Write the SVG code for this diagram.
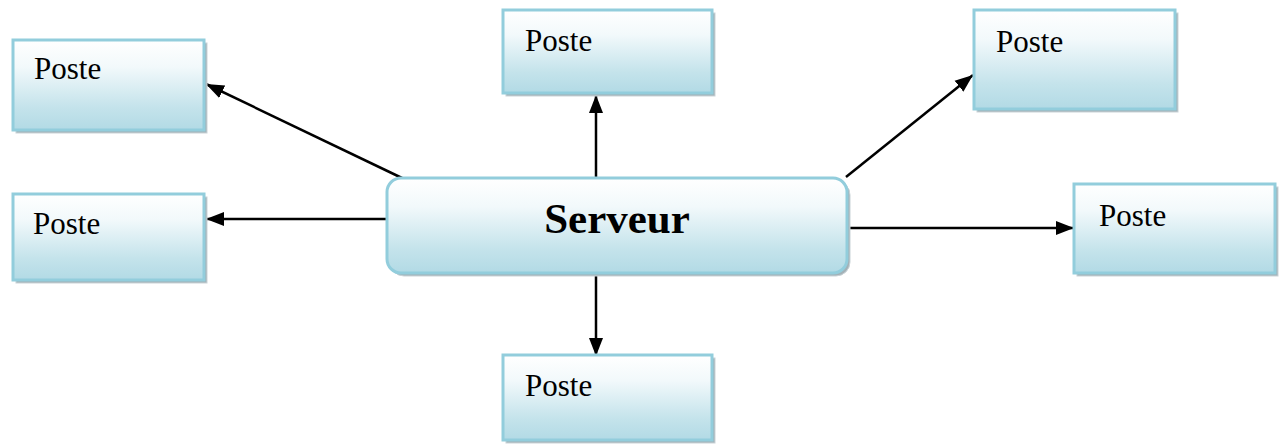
<svg xmlns="http://www.w3.org/2000/svg" width="1282" height="446" viewBox="0 0 1282 446">
  <defs>
    <linearGradient id="fillGrad" x1="0" y1="0" x2="0" y2="1">
      <stop offset="0" stop-color="#ffffff"/>
      <stop offset="0.3" stop-color="#f2f9fb"/>
      <stop offset="0.75" stop-color="#c4e3eb"/>
      <stop offset="1" stop-color="#b2dae5"/>
    </linearGradient>
    <marker id="arrow" markerUnits="userSpaceOnUse" markerWidth="20" markerHeight="16" refX="18" refY="8" orient="auto">
      <path d="M0,1 L18,8 L0,15 z" fill="#000"/>
    </marker>
    <style>
      .shadow { fill: #a3b1b7; stroke: #c9d3d7; stroke-width: 1; }
      .box { fill: url(#fillGrad); stroke: #92cddc; stroke-width: 3; }
      .label { font-family: "Liberation Serif", "Times New Roman", serif; font-size: 31px; fill: #000; }
      .title { font-family: "Liberation Serif", "Times New Roman", serif; font-size: 43px; font-weight: bold; fill: #000; }
      .link { stroke: #000; stroke-width: 2.5; fill: none; marker-end: url(#arrow); }
    </style>
  </defs>

  <rect width="1282" height="446" fill="#ffffff"/>

  <!-- connectors from the server to each workstation -->
  <g id="connectors">
    <line class="link" x1="596" y1="178" x2="596" y2="95"/>
    <line class="link" x1="596" y1="273" x2="596" y2="356"/>
    <line class="link" x1="387" y1="219" x2="206" y2="219"/>
    <line class="link" x1="847" y1="228" x2="1074" y2="228"/>
    <line class="link" x1="402" y1="178" x2="206" y2="84"/>
    <line class="link" x1="846" y1="177" x2="973" y2="75"/>
  </g>

  <!-- server -->
  <g id="serveur">
    <rect class="shadow" x="390" y="181" width="460" height="95" rx="14"/>
    <rect class="box" x="387" y="178" width="460" height="95" rx="14"/>
    <text class="title" x="617" y="233" text-anchor="middle">Serveur</text>
  </g>

  <!-- workstations -->
  <g id="poste-haut-gauche">
    <rect class="shadow" x="16" y="43" width="191" height="90"/>
    <rect class="box" x="13" y="40" width="191" height="90"/>
    <text class="label" x="34" y="79">Poste</text>
  </g>

  <g id="poste-gauche">
    <rect class="shadow" x="16" y="197" width="191" height="86"/>
    <rect class="box" x="13" y="194" width="191" height="86"/>
    <text class="label" x="33" y="234">Poste</text>
  </g>

  <g id="poste-haut">
    <rect class="shadow" x="506" y="13" width="209" height="83"/>
    <rect class="box" x="503" y="10" width="209" height="83"/>
    <text class="label" x="525" y="51">Poste</text>
  </g>

  <g id="poste-bas">
    <rect class="shadow" x="506" y="358" width="209" height="85"/>
    <rect class="box" x="503" y="355" width="209" height="85"/>
    <text class="label" x="525" y="396">Poste</text>
  </g>

  <g id="poste-haut-droite">
    <rect class="shadow" x="977" y="13" width="201" height="99"/>
    <rect class="box" x="974" y="10" width="201" height="99"/>
    <text class="label" x="996" y="52">Poste</text>
  </g>

  <g id="poste-droite">
    <rect class="shadow" x="1077" y="187" width="201" height="89"/>
    <rect class="box" x="1074" y="184" width="201" height="89"/>
    <text class="label" x="1099" y="226">Poste</text>
  </g>
</svg>
